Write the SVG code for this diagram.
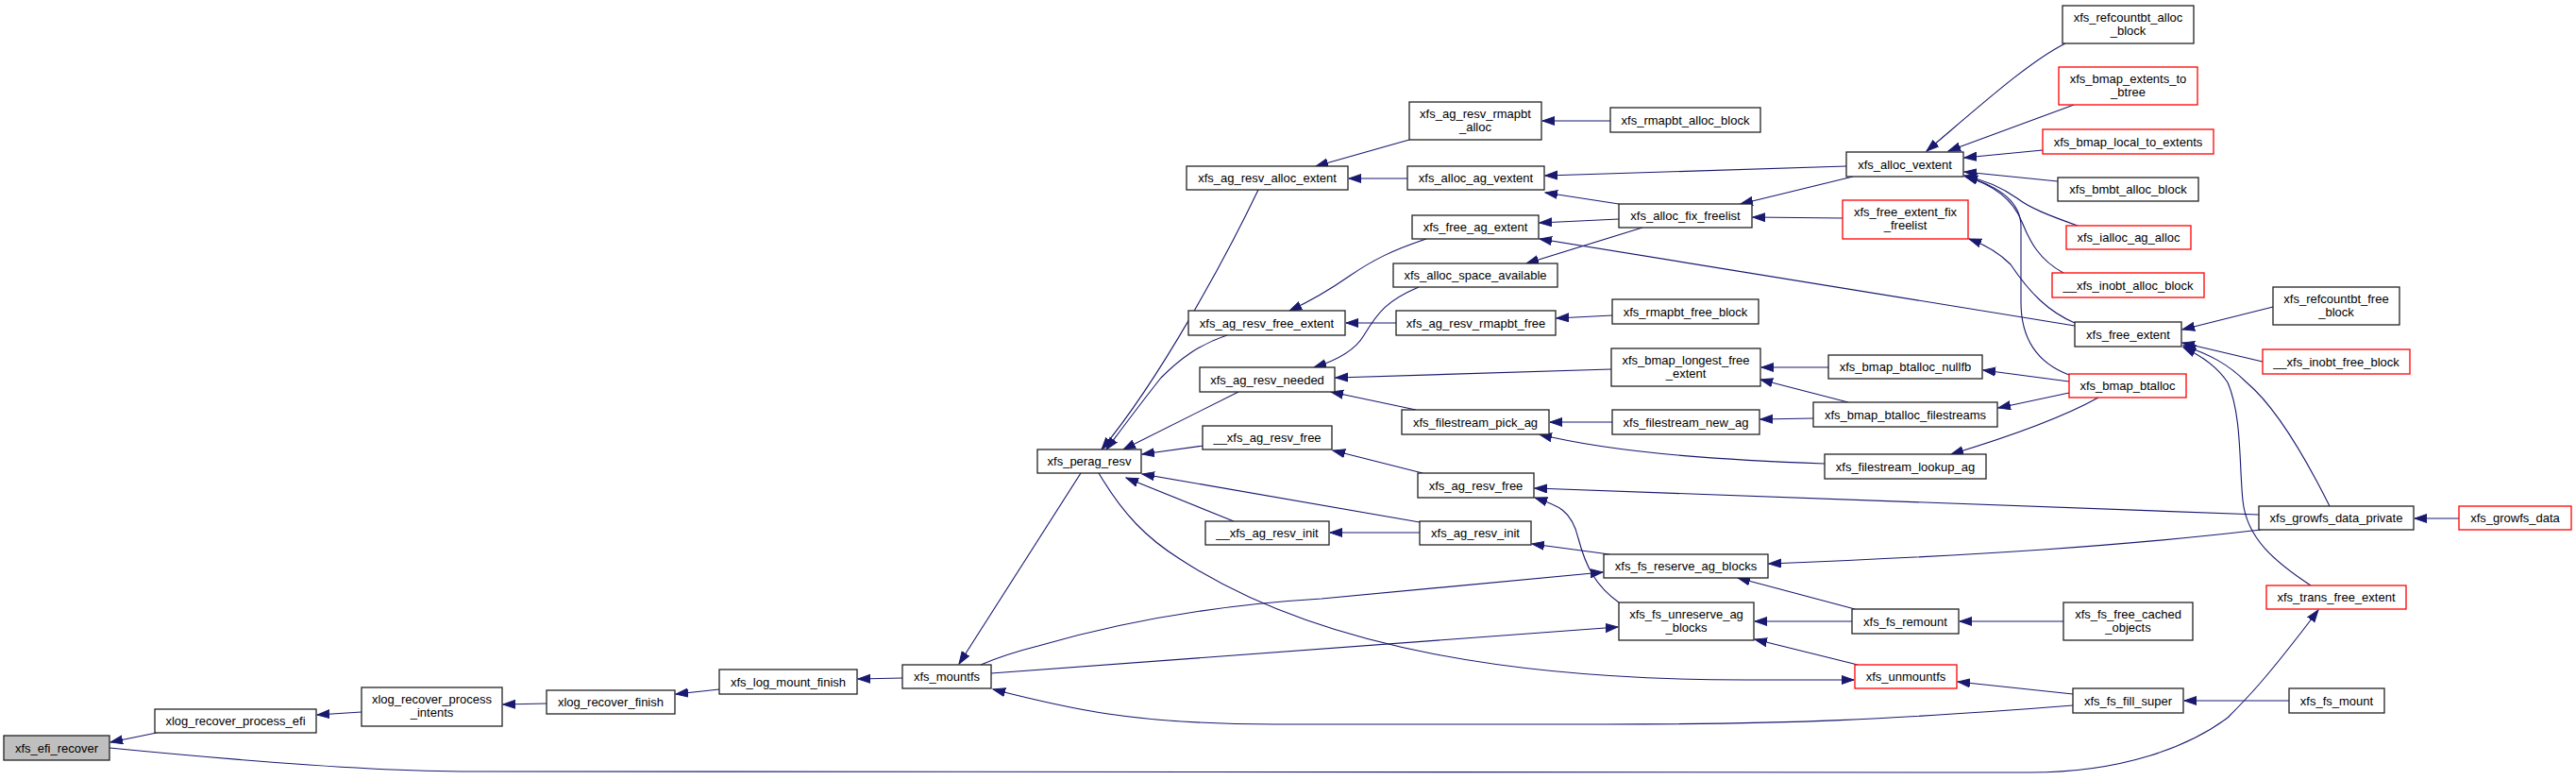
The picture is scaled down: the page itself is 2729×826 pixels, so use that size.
<svg xmlns="http://www.w3.org/2000/svg" width="2729" height="826" viewBox="0 0 2729 826">
<style>
.n rect{fill:#fff;stroke:#222;stroke-width:1.3}
.n.r rect{stroke:#ff0000}
.n.g rect{fill:#bfbfbf}
.n text{font-family:"Liberation Sans",Arial,sans-serif;font-size:13px;fill:#000;text-anchor:middle}
#edges path{fill:none;stroke:#191970;stroke-width:1.1;marker-end:url(#ah)}
</style>
<defs>
<marker id="ah" markerUnits="userSpaceOnUse" markerWidth="14" markerHeight="11" refX="13" refY="5" orient="auto">
<path d="M0,0.5 L13,5 L0,9.5 z" fill="#191970" stroke="#191970" stroke-width="1"/>
</marker>
</defs>
<rect width="2729" height="826" fill="#fff"/>
<g id="edges">
<path d="M166,776 L117,786"/>
<path d="M383,754 L336,757"/>
<path d="M579,745 L533,746"/>
<path d="M762,730 L716,735"/>
<path d="M956,718 L909,719"/>
<path d="M1145,501 L1016,703"/>
<path d="M2196,747 C2000,762 1900,767 1700,767 L1350,767 C1200,767 1130,750 1052,730"/>
<path d="M116,792 C300,810 430,817 500,817 L2150,818 C2250,818 2320,790 2360,760 C2380,740 2400,720 2456,646"/>
<path d="M1333,201 C1300,270 1230,400 1167,476"/>
<path d="M1300,355 C1270,365 1250,380 1230,400 C1210,425 1190,452 1172,476"/>
<path d="M1312,415 L1190,476"/>
<path d="M1275,472 L1210,481"/>
<path d="M1504,553 L1210,502"/>
<path d="M1307,552 L1193,506"/>
<path d="M1164,501 C1190,545 1215,570 1250,592 C1400,690 1620,720 1850,720 L1964,720"/>
<path d="M1039,704 C1060,695 1080,689 1100,684 C1200,655 1300,640 1400,634 L1698,606"/>
<path d="M1050,713 L1714,664"/>
<path d="M1493,148 L1394,176"/>
<path d="M1491,189 L1429,189"/>
<path d="M1706,128 L1634,128"/>
<path d="M1956,176 L1637,186"/>
<path d="M1715,216 L1637,204"/>
<path d="M1963,187 L1844,216"/>
<path d="M1952,231 L1857,230"/>
<path d="M1715,232 L1631,236"/>
<path d="M1740,241 L1617,279"/>
<path d="M2198,345 L1631,253"/>
<path d="M1511,253 C1475,265 1455,275 1430,292 C1410,306 1390,318 1366,329"/>
<path d="M1479,342 L1426,342"/>
<path d="M1708,334 L1649,337"/>
<path d="M1503,304 C1470,318 1460,330 1445,355 C1435,372 1415,382 1392,389"/>
<path d="M1707,391 L1415,400"/>
<path d="M1500,434 L1410,415"/>
<path d="M1937,389 L1866,389"/>
<path d="M1958,426 L1865,402"/>
<path d="M1708,447 L1642,447"/>
<path d="M1921,443 L1865,444"/>
<path d="M1933,491 C1850,488 1720,482 1631,460"/>
<path d="M1507,501 L1412,477"/>
<path d="M2393,545 L1626,517"/>
<path d="M1715,638 C1690,620 1680,600 1672,570 C1665,540 1650,535 1626,527"/>
<path d="M1504,564 L1409,564"/>
<path d="M1705,587 L1623,576"/>
<path d="M1965,645 L1841,612"/>
<path d="M2395,561 C2250,578 2100,588 1874,597"/>
<path d="M1962,658 L1859,658"/>
<path d="M1968,704 L1859,677"/>
<path d="M2186,658 L2076,658"/>
<path d="M2196,735 L2074,722"/>
<path d="M2425,742 L2314,742"/>
<path d="M2605,549 L2558,549"/>
<path d="M2188,46 C2150,65 2100,110 2041,160"/>
<path d="M2197,111 L2064,160"/>
<path d="M2164,159 L2081,167"/>
<path d="M2180,192 L2081,182"/>
<path d="M2201,239 C2170,228 2150,220 2137,210 C2120,198 2100,190 2081,186"/>
<path d="M2186,289 C2160,275 2150,255 2142,235 C2132,210 2110,195 2082,187"/>
<path d="M2192,397 C2160,385 2141,360 2141,320 L2141,240 C2141,210 2110,195 2082,187"/>
<path d="M2198,342 C2170,330 2150,310 2130,280 C2115,265 2100,258 2086,253"/>
<path d="M2408,325 L2312,349"/>
<path d="M2397,383 L2312,363"/>
<path d="M2468,536 C2440,480 2410,430 2380,405 C2360,385 2340,375 2313,366"/>
<path d="M2448,620 C2410,595 2380,570 2376,530 C2372,490 2375,440 2360,405 C2350,390 2335,378 2313,368"/>
<path d="M2192,404 L2101,392"/>
<path d="M2192,416 L2117,432"/>
<path d="M2223,421 C2180,445 2120,465 2067,481"/>
</g>
<g id="n1" class="n g"><rect x="4" y="779" width="112" height="26"/><text x="60" y="796.5">xfs_efi_recover</text></g>
<g id="n2" class="n"><rect x="164" y="751" width="171" height="25"/><text x="249.5" y="768">xlog_recover_process_efi</text></g>
<g id="n3" class="n"><rect x="383" y="728" width="149" height="41"/><text x="457.5" y="745">xlog_recover_process</text><text x="457.5" y="759">_intents</text></g>
<g id="n4" class="n"><rect x="579" y="731" width="136" height="25"/><text x="647" y="748">xlog_recover_finish</text></g>
<g id="n5" class="n"><rect x="762" y="709" width="146" height="26"/><text x="835" y="726.5">xfs_log_mount_finish</text></g>
<g id="n6" class="n"><rect x="956" y="704" width="94" height="25"/><text x="1003" y="721">xfs_mountfs</text></g>
<g id="n7" class="n"><rect x="1099" y="476" width="110" height="25"/><text x="1154" y="493">xfs_perag_resv</text></g>
<g id="n8" class="n"><rect x="1257" y="176" width="171" height="25"/><text x="1342.5" y="193">xfs_ag_resv_alloc_extent</text></g>
<g id="n9" class="n"><rect x="1259" y="329" width="166" height="26"/><text x="1342" y="346.5">xfs_ag_resv_free_extent</text></g>
<g id="n10" class="n"><rect x="1271" y="389" width="143" height="26"/><text x="1342.5" y="406.5">xfs_ag_resv_needed</text></g>
<g id="n11" class="n"><rect x="1274" y="451" width="137" height="25"/><text x="1342.5" y="468">__xfs_ag_resv_free</text></g>
<g id="n12" class="n"><rect x="1277" y="552" width="131" height="25"/><text x="1342.5" y="569">__xfs_ag_resv_init</text></g>
<g id="n13" class="n"><rect x="1493" y="108" width="140" height="40"/><text x="1563" y="125">xfs_ag_resv_rmapbt</text><text x="1563" y="139">_alloc</text></g>
<g id="n14" class="n"><rect x="1706" y="114" width="159" height="26"/><text x="1785.5" y="131.5">xfs_rmapbt_alloc_block</text></g>
<g id="n15" class="n"><rect x="1491" y="176" width="145" height="25"/><text x="1563.5" y="193">xfs_alloc_ag_vextent</text></g>
<g id="n16" class="n"><rect x="1956" y="161" width="124" height="26"/><text x="2018" y="178.5">xfs_alloc_vextent</text></g>
<g id="n17" class="n"><rect x="1715" y="216" width="141" height="25"/><text x="1785.5" y="233">xfs_alloc_fix_freelist</text></g>
<g id="n18" class="n r"><rect x="1952" y="212" width="133" height="41"/><text x="2018.5" y="229">xfs_free_extent_fix</text><text x="2018.5" y="243">_freelist</text></g>
<g id="n19" class="n"><rect x="1496" y="228" width="134" height="25"/><text x="1563" y="245">xfs_free_ag_extent</text></g>
<g id="n20" class="n"><rect x="1476" y="279" width="174" height="25"/><text x="1563" y="296">xfs_alloc_space_available</text></g>
<g id="n21" class="n"><rect x="1479" y="329" width="169" height="26"/><text x="1563.5" y="346.5">xfs_ag_resv_rmapbt_free</text></g>
<g id="n22" class="n"><rect x="1708" y="317" width="155" height="26"/><text x="1785.5" y="334.5">xfs_rmapbt_free_block</text></g>
<g id="n23" class="n"><rect x="1707" y="369" width="158" height="40"/><text x="1786" y="386">xfs_bmap_longest_free</text><text x="1786" y="400">_extent</text></g>
<g id="n24" class="n"><rect x="1937" y="376" width="163" height="25"/><text x="2018.5" y="393">xfs_bmap_btalloc_nullfb</text></g>
<g id="n25" class="n"><rect x="1485" y="434" width="156" height="26"/><text x="1563" y="451.5">xfs_filestream_pick_ag</text></g>
<g id="n26" class="n"><rect x="1708" y="434" width="156" height="26"/><text x="1786" y="451.5">xfs_filestream_new_ag</text></g>
<g id="n27" class="n"><rect x="1921" y="426" width="195" height="26"/><text x="2018.5" y="443.5">xfs_bmap_btalloc_filestreams</text></g>
<g id="n28" class="n"><rect x="1933" y="481" width="171" height="26"/><text x="2018.5" y="498.5">xfs_filestream_lookup_ag</text></g>
<g id="n29" class="n"><rect x="1502" y="501" width="123" height="26"/><text x="1563.5" y="518.5">xfs_ag_resv_free</text></g>
<g id="n30" class="n"><rect x="1504" y="552" width="118" height="25"/><text x="1563" y="569">xfs_ag_resv_init</text></g>
<g id="n31" class="n"><rect x="1699" y="587" width="174" height="25"/><text x="1786" y="604">xfs_fs_reserve_ag_blocks</text></g>
<g id="n32" class="n"><rect x="1715" y="638" width="143" height="40"/><text x="1786.5" y="655">xfs_fs_unreserve_ag</text><text x="1786.5" y="669">_blocks</text></g>
<g id="n33" class="n"><rect x="1962" y="645" width="113" height="26"/><text x="2018.5" y="662.5">xfs_fs_remount</text></g>
<g id="n34" class="n r"><rect x="1965" y="704" width="108" height="25"/><text x="2019" y="721">xfs_unmountfs</text></g>
<g id="n35" class="n"><rect x="2185" y="6" width="139" height="40"/><text x="2254.5" y="23">xfs_refcountbt_alloc</text><text x="2254.5" y="37">_block</text></g>
<g id="n36" class="n r"><rect x="2181" y="71" width="147" height="40"/><text x="2254.5" y="88">xfs_bmap_extents_to</text><text x="2254.5" y="102">_btree</text></g>
<g id="n37" class="n r"><rect x="2164" y="137" width="181" height="26"/><text x="2254.5" y="154.5">xfs_bmap_local_to_extents</text></g>
<g id="n38" class="n"><rect x="2180" y="188" width="149" height="25"/><text x="2254.5" y="205">xfs_bmbt_alloc_block</text></g>
<g id="n39" class="n r"><rect x="2189" y="239" width="132" height="25"/><text x="2255" y="256">xfs_ialloc_ag_alloc</text></g>
<g id="n40" class="n r"><rect x="2174" y="289" width="161" height="26"/><text x="2254.5" y="306.5">__xfs_inobt_alloc_block</text></g>
<g id="n41" class="n"><rect x="2198" y="341" width="113" height="26"/><text x="2254.5" y="358.5">xfs_free_extent</text></g>
<g id="n42" class="n"><rect x="2408" y="304" width="134" height="40"/><text x="2475" y="321">xfs_refcountbt_free</text><text x="2475" y="335">_block</text></g>
<g id="n43" class="n r"><rect x="2397" y="370" width="156" height="26"/><text x="2475" y="387.5">__xfs_inobt_free_block</text></g>
<g id="n44" class="n r"><rect x="2192" y="396" width="124" height="25"/><text x="2254" y="413">xfs_bmap_btalloc</text></g>
<g id="n45" class="n"><rect x="2393" y="536" width="164" height="25"/><text x="2475" y="553">xfs_growfs_data_private</text></g>
<g id="n46" class="n r"><rect x="2605" y="536" width="119" height="25"/><text x="2664.5" y="553">xfs_growfs_data</text></g>
<g id="n47" class="n r"><rect x="2401" y="620" width="148" height="25"/><text x="2475" y="637">xfs_trans_free_extent</text></g>
<g id="n48" class="n"><rect x="2186" y="638" width="137" height="40"/><text x="2254.5" y="655">xfs_fs_free_cached</text><text x="2254.5" y="669">_objects</text></g>
<g id="n49" class="n"><rect x="2196" y="729" width="117" height="26"/><text x="2254.5" y="746.5">xfs_fs_fill_super</text></g>
<g id="n50" class="n"><rect x="2425" y="729" width="101" height="26"/><text x="2475.5" y="746.5">xfs_fs_mount</text></g>
</svg>
